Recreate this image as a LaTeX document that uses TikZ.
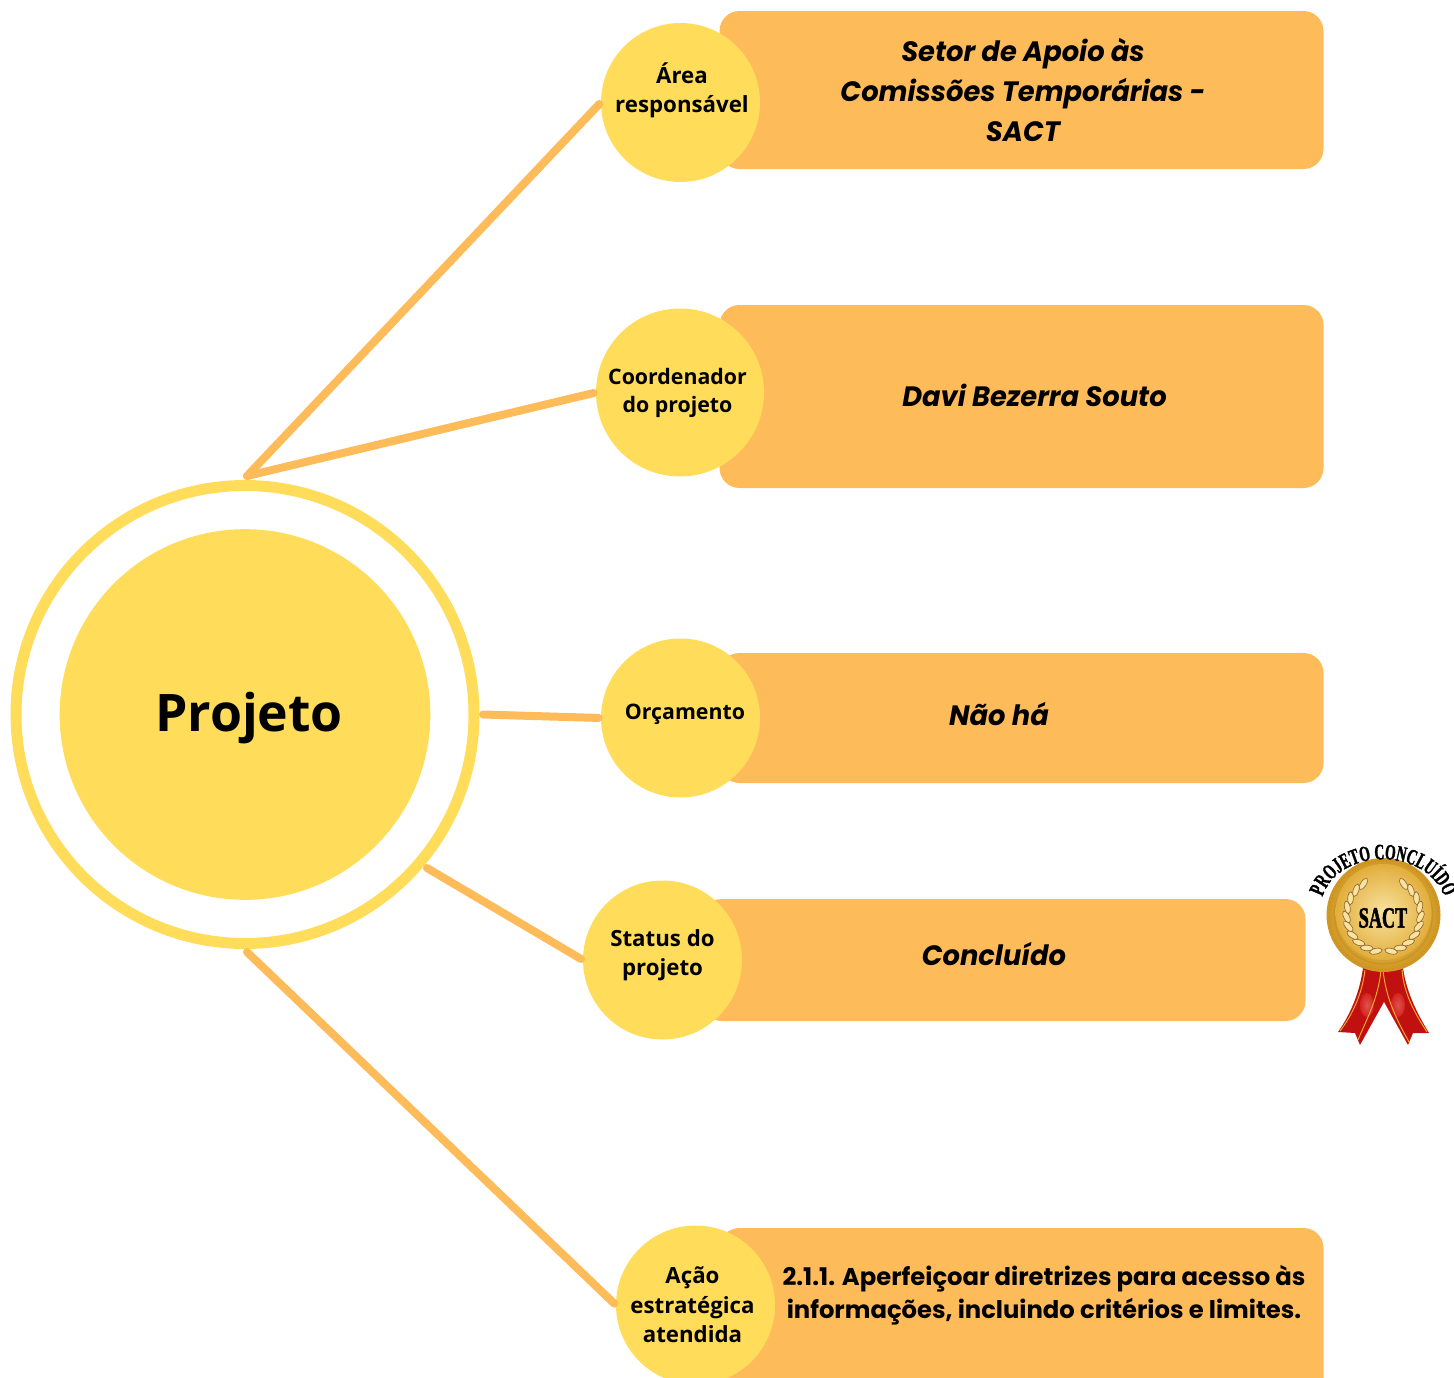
\documentclass[tikz,border=0pt]{standalone}
\usepackage{fontspec}
\setmainfont{Open Sans}
\newfontfamily\boxfont[FakeStretch=0.975]{Poppins}
\newfontfamily\actionfont{Poppins}
\newfontfamily\medalfont[FakeStretch=0.62,FakeBold=1.5]{Liberation Serif}
\usetikzlibrary{decorations.text}
\definecolor{boxorange}{HTML}{FEBB5A}
\definecolor{hubyellow}{HTML}{FFDD5A}
\definecolor{goldrim}{HTML}{CE9622}
\definecolor{goldrimlight}{HTML}{F2CC62}
\definecolor{goldcentre}{HTML}{F8E3A0}
\definecolor{goldface}{HTML}{E2AE3C}
\definecolor{ribbonred}{HTML}{C01010}
\definecolor{ribbonlight}{HTML}{DD2A24}
\definecolor{ribbonstripe}{HTML}{F0B030}
\tikzset{
  x=0.75pt,y=-0.75pt,
  bubble/.style={circle,fill=hubyellow,inner sep=0pt,minimum size=119.25pt},
  panel/.style={fill=boxorange,rounded corners=15pt},
  link/.style={draw=boxorange,line width=6pt,line cap=round,shorten >=1.5pt},
  bubbletext/.style={align=center,font=\fontsize{16.7}{22}\selectfont\bfseries,inner sep=0pt},
  paneltext/.style={align=center,font=\boxfont\fontsize{21}{30}\selectfont\bfseries\itshape,inner sep=0pt},
  actiontext/.style={align=center,font=\actionfont\fontsize{18.2}{25}\selectfont\bfseries,inner sep=0pt},
  leaf/.style={fill=goldcentre,draw=brown!75!black,line width=0.45pt},
  stripe/.style={draw=ribbonstripe,line width=0.7pt},
}
\begin{document}
\begin{tikzpicture}
\path[use as bounding box] (0,0) rectangle (1454,1378);
\clip (0,0) rectangle (1454,1378);

% hub
\node[circle,draw=hubyellow,line width=8.25pt,fill=white,inner sep=0pt,minimum size=343.5pt] (hubring) at (245,714.5) {};
\node[circle,fill=hubyellow,inner sep=0pt,minimum size=278pt] (hub) at (245,714.5) {};
\node[inner sep=0pt,font=\fontsize{38.8}{48}\selectfont\bfseries] (hubtext) at (249,718) {Projeto};

% panels
\fill[panel] (719.5,11) rectangle (1323.5,169);
\fill[panel] (719.5,305) rectangle (1323.5,488);
\fill[panel] (719.5,653) rectangle (1323.5,783);
\fill[panel] (702,899) rectangle (1305.5,1021);
\fill[panel] (719.5,1228) rectangle (1323.5,1420);

% bubbles
\node[bubble] (area) at (680.5,102.5) {};
\node[bubble,minimum size=126pt] (coord) at (680,392.5) {};
\node[bubble] (orc) at (680.5,718) {};
\node[bubble] (status) at (662.5,960) {};
\node[bubble] (acao) at (695.5,1305) {};

% connectors
\coordinate (hubtop) at (247,476);
\coordinate (hubright) at (483,714.5);
\coordinate (hublowright) at (427,868);
\coordinate (hubbottom) at (247,952);
\draw[link] (hubtop) -- (area.west);
\draw[link] (hubtop) -- (coord.west);
\draw[link] (hubright) -- (orc.west);
\draw[link] (hublowright) -- (status.west);
\draw[link] (hubbottom) -- (acao.west);

% bubble labels
\node[bubbletext] (areatext) at (682,90.5) {Área\\responsável};
\node[bubbletext,font=\fontsize{16}{21}\selectfont\bfseries] (coordtext) at (677.5,393) {Coordenador\\do projeto};
\node[bubbletext,font=\fontsize{16}{21}\selectfont\bfseries] (orctext) at (685,714) {Orçamento};
\node[bubbletext] (statustext) at (662.5,955) {Status do\\projeto};
\node[bubbletext] (acaotext) at (692.5,1305) {Ação\\estratégica\\atendida};

% panel labels
\node[paneltext] (areapanel) at (1023,90) {Setor de Apoio às\\Comissões Temporárias -\\SACT};
\node[paneltext] (coordpanel) at (1034.5,395) {Davi Bezerra Souto};
\node[paneltext] (orcpanel) at (999,714) {Não há};
\node[paneltext] (statuspanel) at (994,954) {Concluído};
\node[actiontext] (acaopanel) at (1044,1295) {2.1.1. Aperfeiçoar diretrizes para acesso às\\informações, incluindo critérios e limites.};

% medal: ribbons
\fill[ribbonred] (1363,968) -- (1384,968) -- (1385,1000) -- (1360,1045) -- (1355,1033) -- (1338,1032) .. controls (1352,1012) and (1360,990) .. cycle;
\fill[ribbonred] (1382,968) -- (1403,968) .. controls (1406,990) and (1416,1012) .. (1429,1033) -- (1413,1033) -- (1408,1045) -- (1383,1000) -- cycle;
\shade[inner color=ribbonlight!70!white,outer color=ribbonlight,opacity=0.75] (1367,1005) ellipse [x radius=7,y radius=12];
\shade[inner color=ribbonlight!70!white,outer color=ribbonlight,opacity=0.75] (1398,1005) ellipse [x radius=7,y radius=12];
\draw[stripe] (1381,970) .. controls (1378,1000) and (1366,1020) .. (1358,1040);
\draw[stripe] (1383,970) .. controls (1386,1000) and (1398,1022) .. (1409,1042);
\draw[stripe] (1402,970) .. controls (1404,995) and (1416,1015) .. (1427,1032);
\draw[stripe] (1365,970) .. controls (1362,995) and (1352,1015) .. (1340,1031);

% medal: disc
\shade[inner color=goldrimlight,outer color=goldrim] (1383.5,915) circle [radius=57];
\draw[brown!60!orange,line width=0.7pt,dotted] (1383.5,915) circle [radius=54.5];
\draw[goldrim!80!brown,line width=1pt] (1383.5,915) circle [radius=49];
\shade[inner color=goldcentre,outer color=goldface] (1383.5,912) circle [radius=48];
\foreach \a in {-78,-63,-48,-33,-18,-3,12,27,42,57}{
  \begin{scope}[shift={(1383.5,915)},rotate=\a]
    \begin{scope}[shift={(37,0)},rotate=-24]\path[leaf] (0,0) ellipse [x radius=2.8,y radius=6.5];\end{scope}
  \end{scope}
  \begin{scope}[shift={(1383.5,915)},rotate=180-\a]
    \begin{scope}[shift={(37,0)},rotate=24]\path[leaf] (0,0) ellipse [x radius=2.8,y radius=6.5];\end{scope}
  \end{scope}
}
\node[inner sep=0pt,font=\medalfont\fontsize{22}{24}\selectfont\bfseries] (sact) at (1383,918) {SACT};

% medal: curved caption
\coordinate (medalstart) at (1320,908);
\path[decorate,decoration={text along path,text align=center,
  text={|\medalfont\fontsize{16.5}{20}\selectfont\bfseries|PROJETO CONCLUÍDO}}]
  (medalstart) .. controls (1327,843) and (1438,843) .. (1447,908);
\end{tikzpicture}
\end{document}
